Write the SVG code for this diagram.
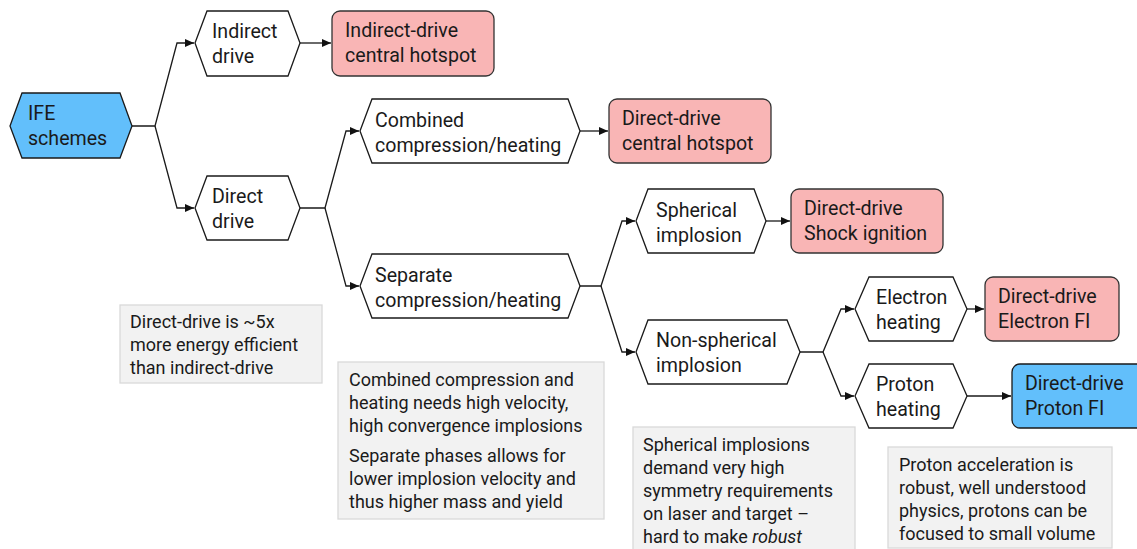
<svg xmlns="http://www.w3.org/2000/svg" width="1137" height="549" viewBox="0 0 1137 549">
<defs>
<marker id="ah" markerWidth="10" markerHeight="8" refX="9" refY="4" orient="auto" markerUnits="userSpaceOnUse">
<path d="M0,0 L9,4 L0,8 Z" fill="#111"/>
</marker>
<style>
.hex{fill:#fff;stroke:#1a1a1a;stroke-width:1.3}
.blue{fill:#62bffb;stroke:#1a1a1a;stroke-width:1.3}
.red{fill:#f9b5b5;stroke:#333;stroke-width:1.3}
.note{fill:#f2f2f2;stroke:#d9d9d9;stroke-width:1.3}
.t{font-family:Roboto,"Liberation Sans",sans-serif;font-size:19.6px;fill:#1a1a1a}
.n{font-family:Roboto,"Liberation Sans",sans-serif;font-size:18px;fill:#1a1a1a}
.c{fill:none;stroke:#1a1a1a;stroke-width:1.3}
</style>
</defs>
<rect width="1137" height="549" fill="#fff"/>

<g id="connectors">
<path class="c" d="M132,126 H155 L177,43 H194" marker-end="url(#ah)"/>
<path class="c" d="M155,126 L177,208 H194" marker-end="url(#ah)"/>
<path class="c" d="M300,43 H331" marker-end="url(#ah)"/>
<path class="c" d="M300,208 H325 L346,131 H359" marker-end="url(#ah)"/>
<path class="c" d="M325,208 L346,286 H359" marker-end="url(#ah)"/>
<path class="c" d="M580,131 H608" marker-end="url(#ah)"/>
<path class="c" d="M580,286 H601 L622,221 H635" marker-end="url(#ah)"/>
<path class="c" d="M601,286 L622,352 H635" marker-end="url(#ah)"/>
<path class="c" d="M766,221 H790" marker-end="url(#ah)"/>
<path class="c" d="M800,352 H823 L841,309 H854" marker-end="url(#ah)"/>
<path class="c" d="M823,352 L841,396 H854" marker-end="url(#ah)"/>
<path class="c" d="M967,309 H984" marker-end="url(#ah)"/>
<path class="c" d="M967,396 H1011" marker-end="url(#ah)"/>
</g>

<g id="ife">
<polygon class="blue" points="10,126 22,93 120,93 132,126 120,158 22,158"/>
<text class="t" x="28" y="120">IFE</text>
<text class="t" x="28" y="145">schemes</text>
</g>

<g id="indirect-drive">
<polygon class="hex" points="195,43 207,11 288,11 300,43 288,76 207,76"/>
<text class="t" x="212" y="38">Indirect</text>
<text class="t" x="212" y="63">drive</text>
</g>

<g id="indirect-hotspot">
<rect class="red" x="332" y="11" width="162" height="65" rx="8"/>
<text class="t" x="345" y="37">Indirect-drive</text>
<text class="t" x="345" y="62">central hotspot</text>
</g>

<g id="direct-drive">
<polygon class="hex" points="195,208 207,176 288,176 300,208 288,240 207,240"/>
<text class="t" x="212" y="203">Direct</text>
<text class="t" x="212" y="228">drive</text>
</g>

<g id="combined">
<polygon class="hex" points="360,131 372,99 568,99 580,131 568,163 372,163"/>
<text class="t" x="375" y="127">Combined</text>
<text class="t" x="375" y="152">compression/heating</text>
</g>

<g id="direct-hotspot">
<rect class="red" x="609" y="99" width="162" height="64" rx="8"/>
<text class="t" x="622" y="125">Direct-drive</text>
<text class="t" x="622" y="150">central hotspot</text>
</g>

<g id="separate">
<polygon class="hex" points="360,286 372,254 568,254 580,286 568,318 372,318"/>
<text class="t" x="375" y="282">Separate</text>
<text class="t" x="375" y="307">compression/heating</text>
</g>

<g id="spherical">
<polygon class="hex" points="636,221 648,189 754,189 766,221 754,253 648,253"/>
<text class="t" x="656" y="217">Spherical</text>
<text class="t" x="656" y="242">implosion</text>
</g>

<g id="shock-ignition">
<rect class="red" x="791" y="189" width="152" height="64" rx="8"/>
<text class="t" x="804" y="215">Direct-drive</text>
<text class="t" x="804" y="240">Shock ignition</text>
</g>

<g id="non-spherical">
<polygon class="hex" points="636,352 648,320 787,320 800,352 787,384 648,384"/>
<text class="t" x="656" y="347">Non-spherical</text>
<text class="t" x="656" y="372">implosion</text>
</g>

<g id="electron-heating">
<polygon class="hex" points="855,309 869,277 953,277 967,309 953,341 869,341"/>
<text class="t" x="876" y="304">Electron</text>
<text class="t" x="876" y="329">heating</text>
</g>

<g id="electron-fi">
<rect class="red" x="985" y="277" width="134" height="64" rx="8"/>
<text class="t" x="998" y="303">Direct-drive</text>
<text class="t" x="998" y="328">Electron FI</text>
</g>

<g id="proton-heating">
<polygon class="hex" points="855,396 869,364 953,364 967,396 953,428 869,428"/>
<text class="t" x="876" y="391">Proton</text>
<text class="t" x="876" y="416">heating</text>
</g>

<g id="proton-fi">
<rect class="blue" x="1012" y="364" width="140" height="64" rx="8"/>
<text class="t" x="1025" y="390">Direct-drive</text>
<text class="t" x="1025" y="415">Proton FI</text>
</g>

<g id="note-efficiency">
<rect class="note" x="120" y="305" width="202" height="78"/>
<text class="n" x="130" y="328">Direct-drive is ~5x</text>
<text class="n" x="130" y="351">more energy efficient</text>
<text class="n" x="130" y="374">than indirect-drive</text>
</g>

<g id="note-phases">
<rect class="note" x="338" y="362" width="266" height="157"/>
<text class="n" x="349" y="386">Combined compression and</text>
<text class="n" x="349" y="409">heating needs high velocity,</text>
<text class="n" x="349" y="432">high convergence implosions</text>
<text class="n" x="349" y="462">Separate phases allows for</text>
<text class="n" x="349" y="485">lower implosion velocity and</text>
<text class="n" x="349" y="508">thus higher mass and yield</text>
</g>

<g id="note-spherical">
<rect class="note" x="633" y="427" width="222" height="130"/>
<text class="n" x="643" y="451">Spherical implosions</text>
<text class="n" x="643" y="474">demand very high</text>
<text class="n" x="643" y="497">symmetry requirements</text>
<text class="n" x="643" y="520">on laser and target –</text>
<text class="n" x="643" y="543">hard to make <tspan font-style="italic">robust</tspan></text>
</g>

<g id="note-proton">
<rect class="note" x="888" y="447" width="224" height="101"/>
<text class="n" x="899" y="471">Proton acceleration is</text>
<text class="n" x="899" y="494">robust, well understood</text>
<text class="n" x="899" y="517">physics, protons can be</text>
<text class="n" x="899" y="540">focused to small volume</text>
</g>
</svg>
